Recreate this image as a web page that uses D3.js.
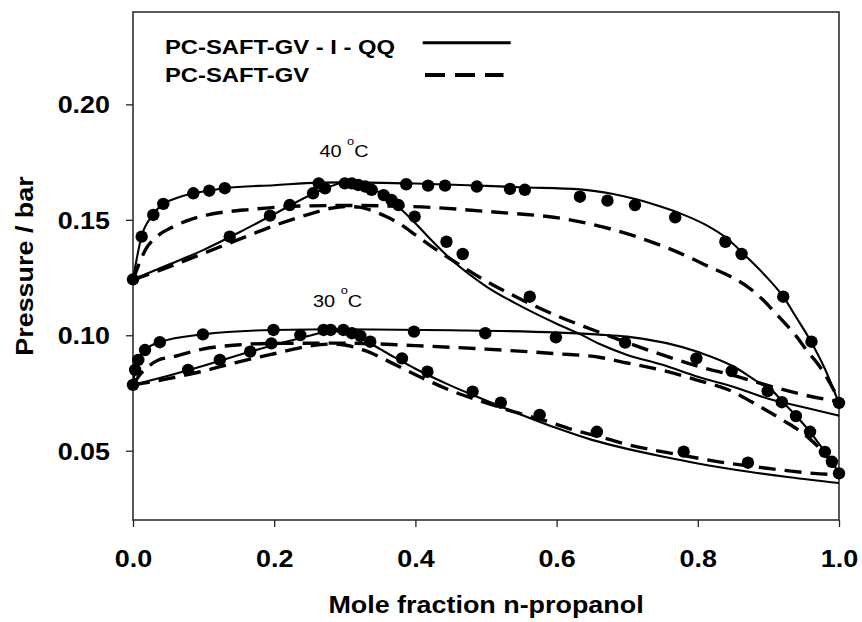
<!DOCTYPE html>
<html>
<head>
<meta charset="utf-8">
<script src="https://cdn.jsdelivr.net/npm/d3@7"></script>
<style>
  html, body { margin: 0; padding: 0; background: #fff; }
  svg { display: block; font-family: "Liberation Sans", Arial, sans-serif; }
</style>
</head>
<body>
<svg id="chart" width="862" height="622"></svg>
<script>
// ---------------- data ----------------
const xTicks = [0.0, 0.2, 0.4, 0.6, 0.8, 1.0];
const yTicks = [0.05, 0.10, 0.15, 0.20];
const xTitle = "Mole fraction n-propanol";
const yTitle = "Pressure / bar";
const legendLabels = ["PC-SAFT-GV - I - QQ", "PC-SAFT-GV"];
const tempLabels = [{t: "40", x: 0.264, p: 0.1771}, {t: "30", x: 0.255, p: 0.1124}];

// experimental points [x, P]
const pts40Bubble = [[0,0.1242],[0.0123,0.1427],[0.0288,0.1521],[0.0429,0.1569],[0.0854,0.1615],[0.108,0.1626],[0.130,0.1637],[0.263,0.1658],[0.300,0.1658],[0.310,0.1658],[0.387,0.1654],[0.418,0.1648],[0.442,0.1648],[0.487,0.1644],[0.534,0.1634],[0.555,0.1630],[0.633,0.1600],[0.672,0.1583],[0.711,0.1564],[0.768,0.1511],[0.839,0.1405],[0.862,0.1352],[0.921,0.1167],[0.961,0.0972],[1.0,0.0707]];
const pts40Dew = [[0.137,0.1427],[0.194,0.1518],[0.222,0.1564],[0.255,0.1615],[0.272,0.1636],[0.319,0.1651],[0.329,0.1644],[0.338,0.1630],[0.355,0.1607],[0.366,0.1586],[0.376,0.1564],[0.399,0.1514],[0.444,0.1405],[0.467,0.1352],[0.562,0.1167]];
const pts30Bubble = [[0,0.0785],[0.003,0.0850],[0.0075,0.0893],[0.017,0.0936],[0.038,0.0970],[0.099,0.1004],[0.199,0.1023],[0.270,0.1023],[0.280,0.1023],[0.298,0.1023],[0.398,0.1016],[0.499,0.1009],[0.599,0.0991],[0.697,0.0968],[0.798,0.0900],[0.848,0.0845],[0.899,0.0758],[0.919,0.0710],[0.939,0.0650],[0.959,0.0582],[0.980,0.0495],[0.990,0.0452],[1.0,0.0402]];
const pts30Dew = [[0.078,0.0850],[0.123,0.0893],[0.166,0.0929],[0.196,0.0965],[0.237,0.1001],[0.310,0.1009],[0.322,0.0997],[0.336,0.0972],[0.381,0.0900],[0.417,0.0842],[0.481,0.0756],[0.521,0.0708],[0.576,0.0655],[0.657,0.0582],[0.780,0.0496],[0.871,0.0448]];

// model curves, PC-SAFT-GV - I - QQ (solid)
const c40BubbleSolid = [[0,0.1242],[0.012,0.1427],[0.027,0.1517],[0.042,0.1568],[0.06,0.1592],[0.085,0.1615],[0.108,0.1626],[0.13,0.1637],[0.2,0.1650],[0.264,0.1661],[0.3,0.1662],[0.4,0.1657],[0.5,0.1647],[0.55,0.1641],[0.633,0.1632],[0.68,0.1612],[0.713,0.1589],[0.745,0.1560],[0.775,0.1528],[0.81,0.1480],[0.841,0.1420],[0.869,0.1340],[0.895,0.1260],[0.921,0.1167],[0.94,0.1075],[0.959,0.0980],[0.98,0.0855],[1.0,0.0705]];
const c40DewSolid = [[0,0.1242],[0.05,0.1305],[0.1,0.1370],[0.15,0.1445],[0.2,0.1525],[0.25,0.1605],[0.28,0.1645],[0.3,0.1662],[0.32,0.1658],[0.34,0.1635],[0.36,0.1592],[0.38,0.1545],[0.4,0.1485],[0.42,0.1420],[0.45,0.1330],[0.5,0.1212],[0.55,0.1125],[0.6,0.1050],[0.633,0.1005],[0.661,0.0962],[0.7,0.0915],[0.75,0.0872],[0.8,0.0820],[0.85,0.0777],[0.9,0.0725],[0.95,0.0688],[1.0,0.0652]];
const c30BubbleSolid = [[0,0.0785],[0.003,0.0850],[0.0075,0.0893],[0.017,0.0936],[0.038,0.0970],[0.099,0.1004],[0.199,0.1023],[0.3,0.1026],[0.45,0.1022],[0.6,0.1012],[0.661,0.1003],[0.7,0.0994],[0.803,0.0925],[0.85,0.0866],[0.888,0.0792],[0.907,0.0756],[0.919,0.0715],[0.938,0.0655],[0.959,0.0582],[0.98,0.0495],[0.99,0.0452],[1.0,0.0402]];
const c30DewSolid = [[0,0.0785],[0.05,0.0825],[0.1,0.0868],[0.15,0.0915],[0.2,0.0958],[0.25,0.0998],[0.28,0.1018],[0.3,0.1012],[0.32,0.0990],[0.34,0.0958],[0.37,0.0905],[0.4,0.0855],[0.45,0.0782],[0.5,0.0718],[0.55,0.0656],[0.6,0.0598],[0.65,0.0547],[0.7,0.0508],[0.75,0.0475],[0.8,0.0445],[0.87,0.0410],[0.93,0.0385],[1.0,0.0360]];

// model curves, PC-SAFT-GV (dashed)
const c40BubbleDash = [[0,0.1240],[0.019,0.1377],[0.035,0.1430],[0.057,0.1470],[0.08,0.1500],[0.104,0.1520],[0.17,0.1546],[0.241,0.1560],[0.3,0.1562],[0.397,0.1557],[0.506,0.1535],[0.619,0.1500],[0.713,0.1427],[0.807,0.1310],[0.883,0.1180],[0.917,0.1073],[0.94,0.0994],[0.954,0.0936],[0.973,0.0864],[1.0,0.0720]];
const c40DewDash = [[0,0.1240],[0.05,0.1295],[0.1,0.1355],[0.15,0.1415],[0.2,0.1475],[0.25,0.1525],[0.28,0.1550],[0.3,0.1558],[0.32,0.1555],[0.34,0.1538],[0.36,0.1512],[0.38,0.1478],[0.4,0.1435],[0.43,0.1370],[0.46,0.1310],[0.5,0.1235],[0.55,0.1155],[0.6,0.1085],[0.65,0.1025],[0.7,0.0968],[0.75,0.0915],[0.8,0.0866],[0.85,0.0826],[0.9,0.0782],[0.95,0.0742],[1.0,0.0712]];
const c30BubbleDash = [[0,0.0785],[0.01,0.0830],[0.02,0.0860],[0.036,0.0893],[0.057,0.0907],[0.097,0.0939],[0.147,0.0958],[0.2,0.0965],[0.3,0.0966],[0.4,0.0955],[0.5,0.0940],[0.6,0.0920],[0.66,0.0905],[0.7,0.0880],[0.75,0.0848],[0.8,0.0805],[0.85,0.0755],[0.876,0.0712],[0.92,0.0633],[0.955,0.0561],[0.98,0.0485],[1.0,0.0400]];
const c30DewDash = [[0,0.0785],[0.05,0.0812],[0.1,0.0845],[0.15,0.0885],[0.2,0.0920],[0.25,0.0953],[0.28,0.0962],[0.3,0.0958],[0.33,0.0932],[0.37,0.0875],[0.41,0.0815],[0.454,0.0756],[0.496,0.0712],[0.54,0.0668],[0.581,0.0633],[0.624,0.0590],[0.661,0.0561],[0.7,0.0527],[0.775,0.0482],[0.83,0.0452],[0.898,0.0424],[0.964,0.0402],[1.0,0.0395]];

// ---------------- drawing ----------------
const SX = 1.17; // horizontal stretch of the original lettering
const svg = d3.select("#chart");
const M = {left: 133, right: 839, top: 12, bottom: 520};
const x = d3.scaleLinear().domain([0, 1]).range([M.left, M.right]);
const y = d3.scaleLinear().domain([0.02, 0.24]).range([M.bottom, M.top]);
const ink = "#000";
const frameCol = "#222";

// axes
const xAxis = svg.append("g").attr("transform", `translate(0,${M.bottom})`)
  .call(d3.axisBottom(x).tickValues(xTicks).tickFormat(d3.format(".1f")).tickSize(7).tickSizeOuter(0));
xAxis.select(".domain").remove();
xAxis.selectAll(".tick line").attr("stroke", frameCol).attr("stroke-width", 1.3);
xAxis.selectAll(".tick text")
  .attr("y", null).attr("dy", null)
  .attr("transform", `translate(0,46.7) scale(${SX},1)`)
  .attr("text-anchor", "middle")
  .style("font-size", "23px").style("font-weight", "bold")
  .style("font-family", "'Liberation Sans', Arial, sans-serif").attr("fill", ink);

const yAxis = svg.append("g").attr("transform", `translate(${M.left},0)`)
  .call(d3.axisLeft(y).tickValues(yTicks).tickFormat(d3.format(".2f")).tickSize(7).tickSizeOuter(0));
yAxis.select(".domain").remove();
yAxis.selectAll(".tick line").attr("stroke", frameCol).attr("stroke-width", 1.3);
yAxis.selectAll(".tick text")
  .attr("x", null).attr("dy", null)
  .attr("transform", `translate(-23,8.3) scale(${SX},1)`)
  .attr("text-anchor", "end")
  .style("font-size", "23px").style("font-weight", "bold")
  .style("font-family", "'Liberation Sans', Arial, sans-serif").attr("fill", ink);

// frame
svg.append("rect")
  .attr("x", x(0)).attr("y", y(0.24))
  .attr("width", x(1) - x(0)).attr("height", y(0.02) - y(0.24))
  .attr("fill", "none").attr("stroke", frameCol).attr("stroke-width", 1.5);

// axis titles
svg.append("text")
  .attr("transform", `translate(${(M.left + M.right) / 2},613) scale(${SX},1)`)
  .attr("text-anchor", "middle").attr("fill", ink)
  .style("font-size", "23px").style("font-weight", "bold")
  .text(xTitle);
svg.append("text")
  .attr("transform", `translate(33,${(M.top + M.bottom) / 2}) rotate(-90) scale(${SX},1)`)
  .attr("text-anchor", "middle").attr("fill", ink)
  .style("font-size", "23px").style("font-weight", "bold")
  .text(yTitle);

// curves
const line = d3.line().x(d => x(d[0])).y(d => y(d[1])).curve(d3.curveMonotoneX);
const plot = svg.append("g");
const solids = [c40BubbleSolid, c40DewSolid, c30BubbleSolid, c30DewSolid];
const dashes = [c40BubbleDash, c40DewDash, c30BubbleDash, c30DewDash];
plot.selectAll("path.dash").data(dashes).join("path")
  .attr("class", "dash").attr("d", line)
  .attr("fill", "none").attr("stroke", ink).attr("stroke-width", 3.4)
  .attr("stroke-dasharray", "17,9");
plot.selectAll("path.solid").data(solids).join("path")
  .attr("class", "solid").attr("d", line)
  .attr("fill", "none").attr("stroke", ink).attr("stroke-width", 2.1);

// points
const allPts = [].concat(pts40Bubble, pts40Dew, pts30Bubble, pts30Dew);
plot.selectAll("circle").data(allPts).join("circle")
  .attr("cx", d => x(d[0])).attr("cy", d => y(d[1])).attr("r", 6.2)
  .attr("fill", ink);

// temperature labels
tempLabels.forEach(l => {
  const t = svg.append("text")
    .attr("transform", `translate(${x(l.x)},${y(l.p)}) scale(${SX},1)`)
    .attr("fill", ink).style("font-size", "17px");
  t.append("tspan").text(l.t + " ");
  t.append("tspan").attr("dy", -12.4).style("font-size", "11px").text("o");
  t.append("tspan").attr("dy", 12.4).text("C");
});

// legend
const leg = svg.append("g");
leg.append("text").attr("transform", `translate(165,54) scale(1.19,1)`)
  .attr("fill", ink).style("font-size", "20px").style("font-weight", "bold").text(legendLabels[0]);
leg.append("text").attr("transform", `translate(165,81.7) scale(1.19,1)`)
  .attr("fill", ink).style("font-size", "20px").style("font-weight", "bold").text(legendLabels[1]);
leg.append("line").attr("x1", 422.7).attr("x2", 510.7).attr("y1", 42.7).attr("y2", 42.7)
  .attr("stroke", ink).attr("stroke-width", 3);
leg.append("line").attr("x1", 425).attr("x2", 503.5).attr("y1", 75).attr("y2", 75)
  .attr("stroke", ink).attr("stroke-width", 4).attr("stroke-dasharray", "20,10");
</script>
</body>
</html>
